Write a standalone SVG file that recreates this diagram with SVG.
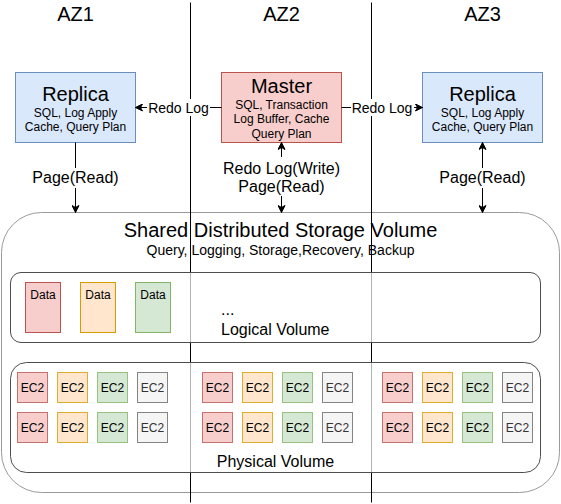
<svg xmlns="http://www.w3.org/2000/svg" width="561" height="504" viewBox="0 0 561 504">
<defs>
<marker id="arr" viewBox="-8 -4 9 8" refX="0" refY="0" markerWidth="9" markerHeight="8" markerUnits="userSpaceOnUse" orient="auto-start-reverse">
<path d="M0,0 L-7,-3.5 L-5,0 L-7,3.5 Z" fill="#000" stroke="#000" stroke-width="1"/>
</marker>
<style>
text{font-family:"Liberation Sans",Arial,Helvetica,sans-serif;fill:#000;text-anchor:middle}
.t20{font-size:20px}
.t16{font-size:16px}
.t14{font-size:14px}
.t12{font-size:12px}
.blue{fill:#dae8fc;stroke:#6c8ebf}
.red{fill:#f8cecc;stroke:#b85450}
.orange{fill:#ffe6cc;stroke:#d79b00}
.green{fill:#d5e8d4;stroke:#82b366}
.gray{fill:#f5f5f5;stroke:#666666}
.ec2 rect{stroke-opacity:0.8}
.vol{fill:#fff;fill-opacity:0.7;stroke:#4d4d4d}
.edge{fill:none;stroke:#000;stroke-width:1}
.lbl{fill:#fff;stroke:none}
.zone{stroke:#000;stroke-width:1}
</style>
</defs>
<rect x="0" y="0" width="561" height="504" fill="#fff"/>

<g id="storage">
<rect x="1.5" y="212.5" width="558" height="280" rx="40" ry="40" fill="none" stroke="#9a9a9a"/>
<text class="t20" x="280.5" y="237">Shared Distributed Storage Volume</text>
<text class="t14" x="280.5" y="255">Query, Logging, Storage,Recovery, Backup</text>
</g>

<g id="zones">
<text class="t20" x="75.5" y="21">AZ1</text>
<text class="t20" x="281.5" y="21">AZ2</text>
<text class="t20" x="482.5" y="21">AZ3</text>
<line class="zone" x1="190.5" y1="2.5" x2="190.5" y2="502.5"/>
<line class="zone" x1="371.5" y1="2.5" x2="371.5" y2="502.5"/>
</g>

<g id="logical-volume">
<rect class="vol" x="10.5" y="272.5" width="530" height="70" rx="10.5" ry="10.5"/>
<text class="t16" style="text-anchor:start" x="221" y="315">...</text>
<text class="t16" style="text-anchor:start" x="221" y="335">Logical Volume</text>
</g>
<g id="data1"><rect class="red" x="25.5" y="282.5" width="35" height="50"/><text class="t12" x="43" y="299">Data</text></g>
<g id="data2"><rect class="orange" x="80.5" y="282.5" width="35" height="50"/><text class="t12" x="98" y="299">Data</text></g>
<g id="data3"><rect class="green" x="135.5" y="282.5" width="35" height="50"/><text class="t12" x="153" y="299">Data</text></g>

<g id="physical-volume">
<rect class="vol" x="10.5" y="362.5" width="530" height="110" rx="16" ry="16"/>
<text class="t16" x="275.5" y="466.5">Physical Volume</text>
</g>

<g id="ec2-nodes" class="ec2">
<g id="ec2-a1"><rect class="red" x="17.5" y="372.5" width="30" height="30"/><text class="t12" x="32.5" y="392">EC2</text></g>
<g id="ec2-a2"><rect class="orange" x="57.5" y="372.5" width="30" height="30"/><text class="t12" x="72.5" y="392">EC2</text></g>
<g id="ec2-a3"><rect class="green" x="97.5" y="372.5" width="30" height="30"/><text class="t12" x="112.5" y="392">EC2</text></g>
<g id="ec2-a4"><rect class="gray" x="137.5" y="372.5" width="30" height="30"/><text class="t12" x="152.5" y="392" style="fill:#333">EC2</text></g>
<g id="ec2-a5"><rect class="red" x="17.5" y="412.5" width="30" height="30"/><text class="t12" x="32.5" y="432">EC2</text></g>
<g id="ec2-a6"><rect class="orange" x="57.5" y="412.5" width="30" height="30"/><text class="t12" x="72.5" y="432">EC2</text></g>
<g id="ec2-a7"><rect class="green" x="97.5" y="412.5" width="30" height="30"/><text class="t12" x="112.5" y="432">EC2</text></g>
<g id="ec2-a8"><rect class="gray" x="137.5" y="412.5" width="30" height="30"/><text class="t12" x="152.5" y="432" style="fill:#333">EC2</text></g>

<g id="ec2-b1"><rect class="red" x="202.5" y="372.5" width="30" height="30"/><text class="t12" x="217.5" y="392">EC2</text></g>
<g id="ec2-b2"><rect class="orange" x="242.5" y="372.5" width="30" height="30"/><text class="t12" x="257.5" y="392">EC2</text></g>
<g id="ec2-b3"><rect class="green" x="282.5" y="372.5" width="30" height="30"/><text class="t12" x="297.5" y="392">EC2</text></g>
<g id="ec2-b4"><rect class="gray" x="322.5" y="372.5" width="30" height="30"/><text class="t12" x="337.5" y="392" style="fill:#333">EC2</text></g>
<g id="ec2-b5"><rect class="red" x="202.5" y="412.5" width="30" height="30"/><text class="t12" x="217.5" y="432">EC2</text></g>
<g id="ec2-b6"><rect class="orange" x="242.5" y="412.5" width="30" height="30"/><text class="t12" x="257.5" y="432">EC2</text></g>
<g id="ec2-b7"><rect class="green" x="282.5" y="412.5" width="30" height="30"/><text class="t12" x="297.5" y="432">EC2</text></g>
<g id="ec2-b8"><rect class="gray" x="322.5" y="412.5" width="30" height="30"/><text class="t12" x="337.5" y="432" style="fill:#333">EC2</text></g>

<g id="ec2-c1"><rect class="red" x="382.5" y="372.5" width="30" height="30"/><text class="t12" x="397.5" y="392">EC2</text></g>
<g id="ec2-c2"><rect class="orange" x="422.5" y="372.5" width="30" height="30"/><text class="t12" x="437.5" y="392">EC2</text></g>
<g id="ec2-c3"><rect class="green" x="462.5" y="372.5" width="30" height="30"/><text class="t12" x="477.5" y="392">EC2</text></g>
<g id="ec2-c4"><rect class="gray" x="502.5" y="372.5" width="30" height="30"/><text class="t12" x="517.5" y="392" style="fill:#333">EC2</text></g>
<g id="ec2-c5"><rect class="red" x="382.5" y="412.5" width="30" height="30"/><text class="t12" x="397.5" y="432">EC2</text></g>
<g id="ec2-c6"><rect class="orange" x="422.5" y="412.5" width="30" height="30"/><text class="t12" x="437.5" y="432">EC2</text></g>
<g id="ec2-c7"><rect class="green" x="462.5" y="412.5" width="30" height="30"/><text class="t12" x="477.5" y="432">EC2</text></g>
<g id="ec2-c8"><rect class="gray" x="502.5" y="412.5" width="30" height="30"/><text class="t12" x="517.5" y="432" style="fill:#333">EC2</text></g>
</g>

<g id="replica1">
<rect class="blue" x="15.5" y="72.5" width="120" height="70"/>
<text class="t20" x="75.5" y="100.5">Replica</text>
<text class="t12" x="75.5" y="116.5">SQL, Log Apply</text>
<text class="t12" x="75.5" y="131">Cache, Query Plan</text>
</g>
<g id="master">
<rect class="red" x="221.5" y="72.5" width="120" height="70"/>
<text class="t20" x="281.5" y="93">Master</text>
<text class="t12" x="281.5" y="108.5">SQL, Transaction</text>
<text class="t12" x="281.5" y="123">Log Buffer, Cache</text>
<text class="t12" x="281.5" y="137.5">Query Plan</text>
</g>
<g id="replica3">
<rect class="blue" x="422.5" y="72.5" width="120" height="70"/>
<text class="t20" x="482.5" y="100.5">Replica</text>
<text class="t12" x="482.5" y="116.5">SQL, Log Apply</text>
<text class="t12" x="482.5" y="131">Cache, Query Plan</text>
</g>

<g id="connectors">
<line class="edge" x1="221.5" y1="107.5" x2="135.5" y2="107.5" marker-end="url(#arr)"/>
<rect class="lbl" x="147" y="99" width="63" height="17"/>
<text class="t14" x="178.5" y="112.5">Redo Log</text>

<line class="edge" x1="341.5" y1="107.5" x2="422.5" y2="107.5" marker-end="url(#arr)"/>
<rect class="lbl" x="351" y="99" width="63" height="17"/>
<text class="t14" x="382" y="112.5">Redo Log</text>

<line class="edge" x1="75.5" y1="142.5" x2="75.5" y2="212.5" marker-end="url(#arr)"/>
<rect class="lbl" x="32" y="168" width="87" height="20"/>
<text class="t16" x="75.5" y="182.5">Page(Read)</text>

<line class="edge" x1="281.5" y1="142.5" x2="281.5" y2="212.5" marker-start="url(#arr)" marker-end="url(#arr)"/>
<rect class="lbl" x="218" y="157" width="127" height="39"/>
<text class="t16" x="281.5" y="173.5">Redo Log(Write)</text>
<text class="t16" x="281.5" y="192">Page(Read)</text>

<line class="edge" x1="482.5" y1="142.5" x2="482.5" y2="212.5" marker-start="url(#arr)" marker-end="url(#arr)"/>
<rect class="lbl" x="439" y="168" width="87" height="20"/>
<text class="t16" x="482.5" y="182.5">Page(Read)</text>
</g>
</svg>
